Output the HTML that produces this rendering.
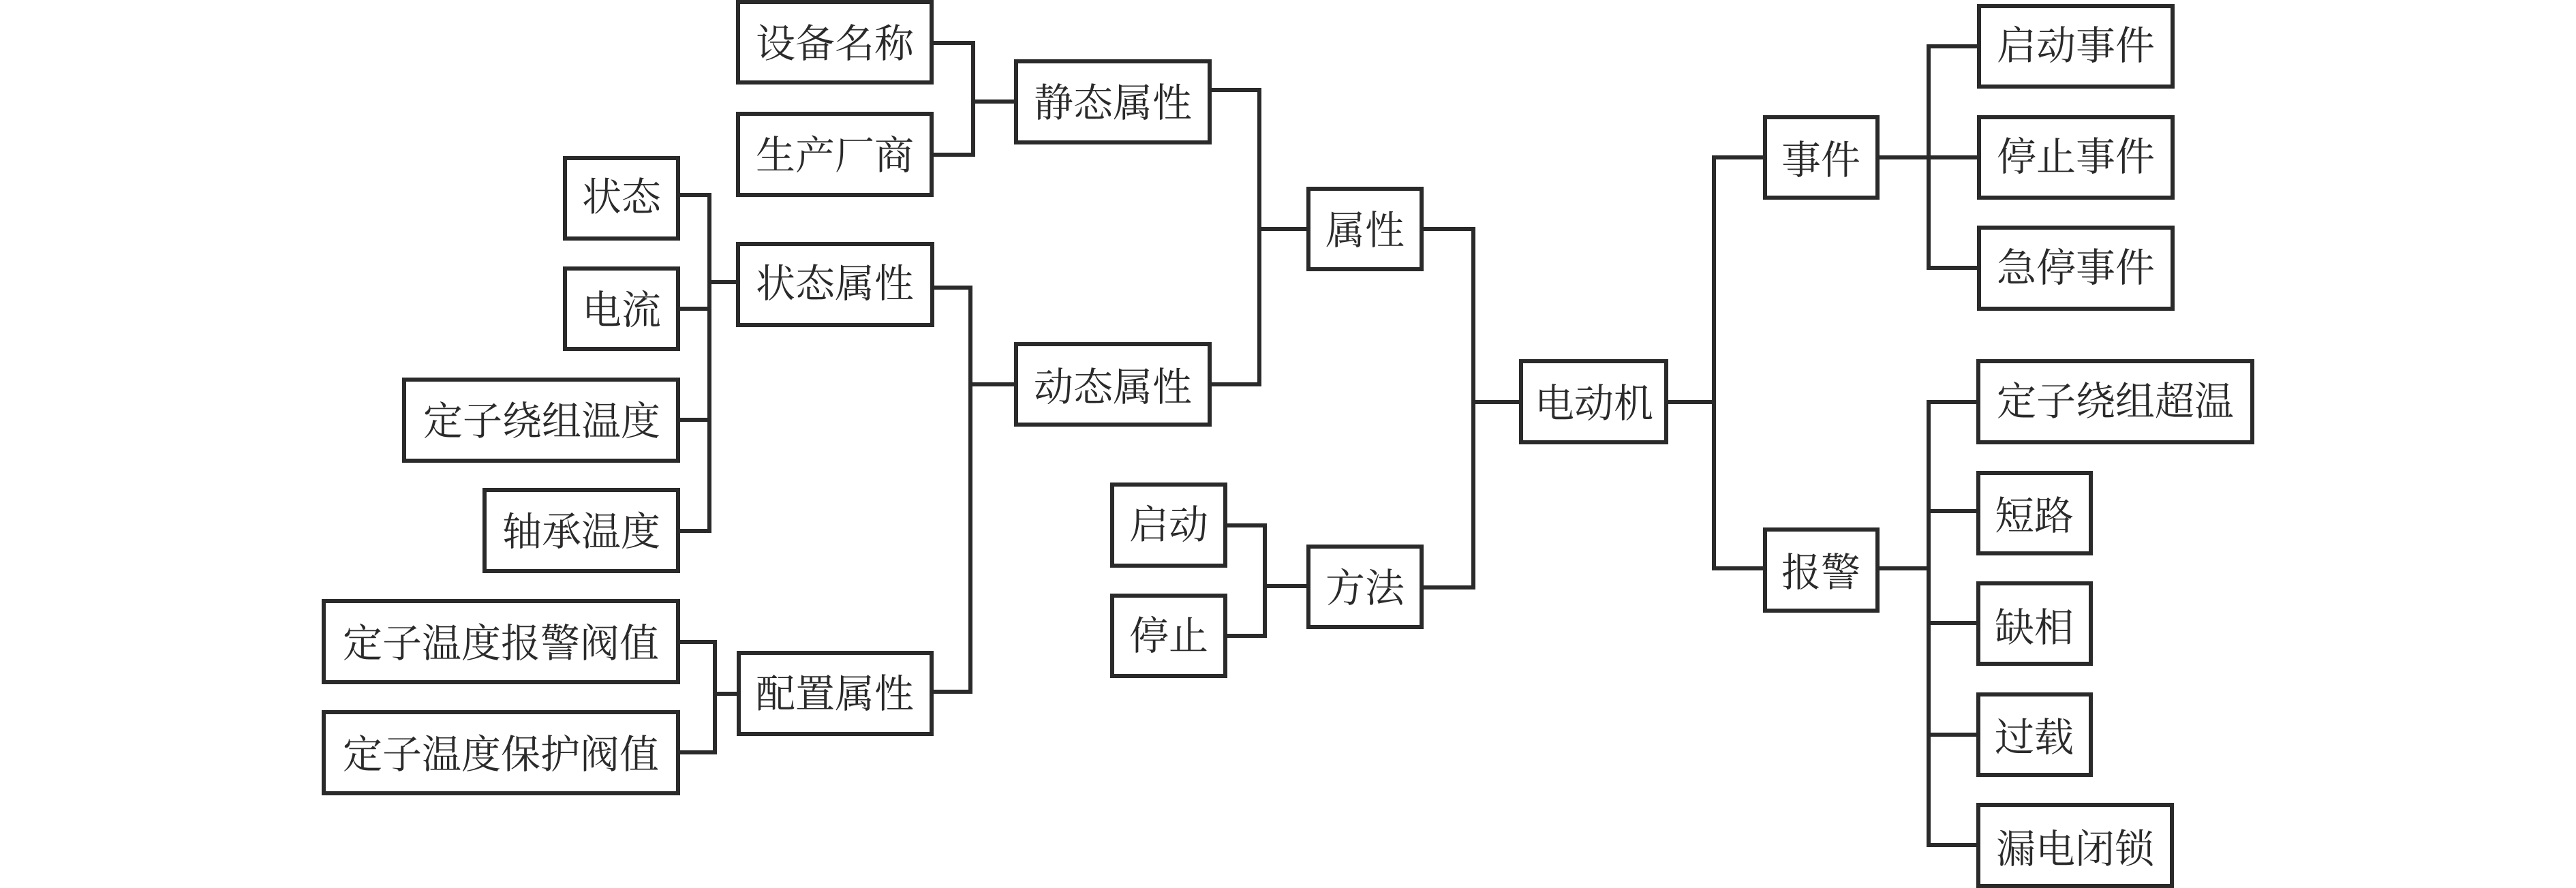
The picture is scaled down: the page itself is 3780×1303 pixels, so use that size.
<!DOCTYPE html>
<html lang="zh">
<head>
<meta charset="utf-8">
<title>电动机</title>
<style>
html,body{margin:0;padding:0;background:#fff;width:3780px;height:1303px;overflow:hidden}
svg{display:block}
rect{fill:#fff;stroke:#2b2a2a;stroke-width:6}
path{fill:none;stroke:#2b2a2a;stroke-width:6;stroke-linecap:butt;stroke-linejoin:miter}
text{font-family:"Liberation Serif","Noto Serif CJK SC",serif;font-size:58px;fill:#2b2a2a;text-anchor:middle}
</style>
</head>
<body>
<svg xmlns="http://www.w3.org/2000/svg" width="3780" height="1303" viewBox="0 0 3780 1303">
<!-- connectors -->
<path d="M1370 63H1428V227H1370M1428 149H1489"/>
<path d="M1778 132H1848V564H1778M1848 336H1917"/>
<path d="M998 286H1041V779H998M998 453H1041M998 616H1041M1041 414H1081"/>
<path d="M998 942H1049V1104H998M1049 1018H1081"/>
<path d="M1370 422H1424V1015H1370M1424 564H1489"/>
<path d="M1801 771H1856V933H1801M1856 860H1917"/>
<path d="M2089 336H2162V862H2089M2162 590H2229"/>
<path d="M2448 590H2515M2587 231H2515V834H2587"/>
<path d="M2758 231H2901M2901 68H2830V393H2901"/>
<path d="M2758 834H2830M2900 590H2830V1240H2900M2830 750H2900M2830 914H2900M2830 1078H2900"/>

<!-- boxes: outer bounds minus half the stroke -->
<rect x="1083" y="3" width="284" height="118"/><text x="1225" y="84">设备名称</text>
<rect x="1083" y="167" width="284" height="119"/><text x="1225" y="248">生产厂商</text>
<rect x="1491" y="90" width="284" height="119"/><text x="1633" y="171">静态属性</text>
<rect x="1491" y="505" width="284" height="118"/><text x="1633" y="588">动态属性</text>
<rect x="1083" y="358" width="285" height="119"/><text x="1225" y="436">状态属性</text>
<rect x="1084" y="958" width="283" height="119"/><text x="1225" y="1038">配置属性</text>

<rect x="829" y="232" width="166" height="118"/><text x="912" y="309">状态</text>
<rect x="829" y="394" width="166" height="118"/><text x="912" y="475">电流</text>
<rect x="593" y="557" width="402" height="119"/><text x="795" y="638">定子绕组温度</text>
<rect x="711" y="719" width="284" height="119"/><text x="853" y="800">轴承温度</text>
<rect x="475" y="882" width="520" height="119"/><text x="735" y="964">定子温度报警阀值</text>
<rect x="475" y="1045" width="520" height="119"/><text x="735" y="1127">定子温度保护阀值</text>

<rect x="1632" y="711" width="166" height="119"/><text x="1715" y="790">启动</text>
<rect x="1632" y="874" width="166" height="118"/><text x="1715" y="953">停止</text>
<rect x="1920" y="277" width="166" height="118"/><text x="2003" y="358">属性</text>
<rect x="1920" y="802" width="166" height="118"/><text x="2003" y="883">方法</text>
<rect x="2232" y="530" width="213" height="119"/><text x="2339" y="612">电动机</text>

<rect x="2590" y="172" width="165" height="118"/><text x="2672" y="255">事件</text>
<rect x="2590" y="777" width="165" height="119"/><text x="2672" y="860">报警</text>

<rect x="2904" y="9" width="284" height="118"/><text x="3046" y="87">启动事件</text>
<rect x="2904" y="172" width="284" height="118"/><text x="3046" y="250">停止事件</text>
<rect x="2904" y="334" width="284" height="119"/><text x="3046" y="413">急停事件</text>
<rect x="2903" y="530" width="402" height="119"/><text x="3104" y="609">定子绕组超温</text>
<rect x="2903" y="694" width="165" height="118"/><text x="2985" y="777">短路</text>
<rect x="2903" y="856" width="165" height="118"/><text x="2985" y="941">缺相</text>
<rect x="2903" y="1019" width="165" height="118"/><text x="2985" y="1102">过载</text>
<rect x="2903" y="1181" width="284" height="119"/><text x="3045" y="1266">漏电闭锁</text>
</svg>
</body>
</html>
